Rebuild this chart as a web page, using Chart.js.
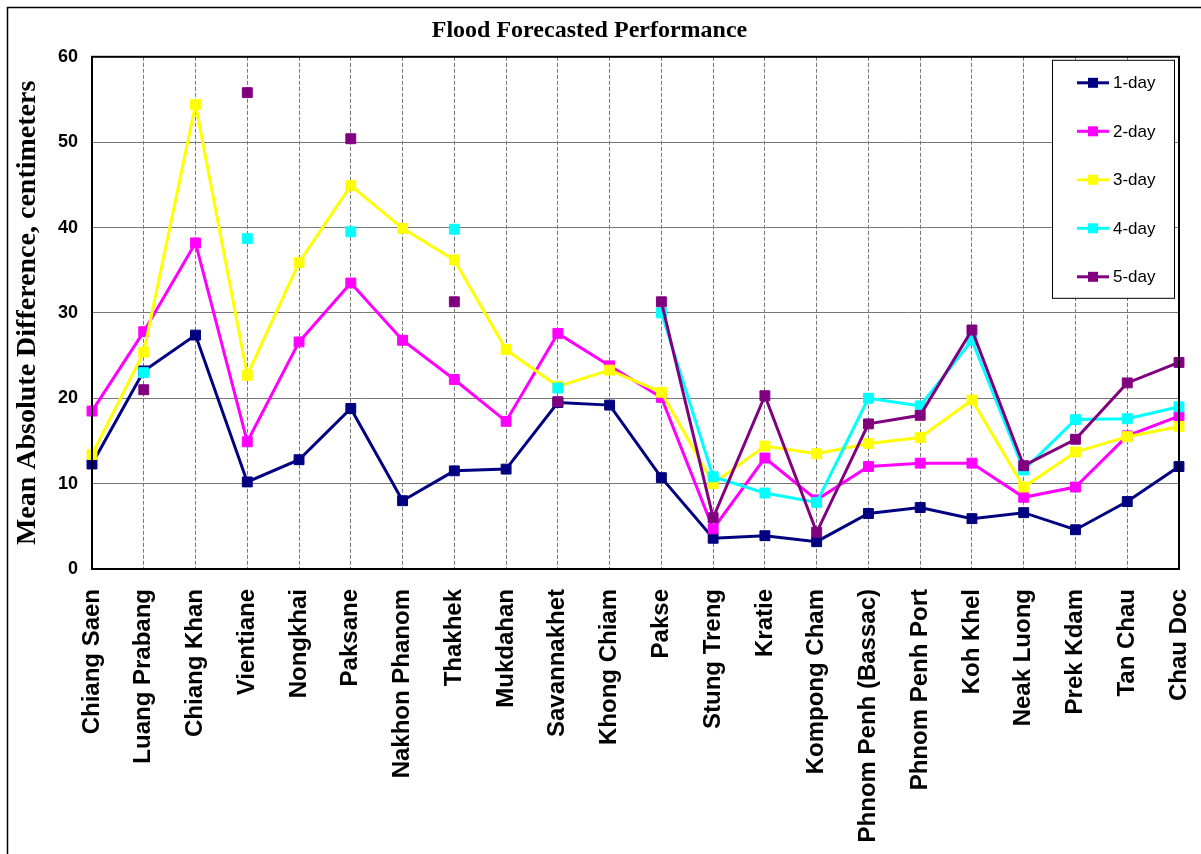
<!DOCTYPE html>
<html>
<head>
<meta charset="utf-8">
<title>Flood Forecasted Performance</title>
<script src="https://cdn.jsdelivr.net/npm/chart.js@4.4.1/dist/chart.umd.min.js"></script>
<style>
  body { margin: 0; background: #fff; }
  canvas { display: block; }
</style>
</head>
<body>
<canvas id="floodCanvas" width="1201" height="854"></canvas>
<script>
const stations = ['Chiang Saen', 'Luang Prabang', 'Chiang Khan', 'Vientiane', 'Nongkhai', 'Paksane',
  'Nakhon Phanom', 'Thakhek', 'Mukdahan', 'Savannakhet', 'Khong Chiam', 'Pakse', 'Stung Treng',
  'Kratie', 'Kompong Cham', 'Phnom Penh (Bassac)', 'Phnom Penh Port', 'Koh Khel', 'Neak Luong',
  'Prek Kdam', 'Tan Chau', 'Chau Doc'];

const oneDay = [12.3, 23.2, 27.4, 10.2, 12.8, 18.8, 8.0, 11.5, 11.7, 19.5, 19.2, 10.7, 3.6, 3.9, 3.2, 6.5, 7.2, 5.9, 6.6, 4.6, 7.9, 12.0];
const twoDay = [18.5, 27.8, 38.2, 14.9, 26.6, 33.5, 26.8, 22.2, 17.3, 27.6, 23.8, 20.1, 4.7, 13.0, 8.1, 12.0, 12.4, 12.4, 8.4, 9.6, 15.6, 17.9];
const threeDay = [13.4, 25.4, 54.4, 22.7, 35.9, 44.9, 39.9, 36.2, 25.7, 21.4, 23.3, 20.7, 10.0, 14.4, 13.5, 14.7, 15.4, 19.8, 9.6, 13.7, 15.5, 16.7];
const fourDay = [null, 23.0, null, 38.7, null, 39.5, null, 39.8, null, 21.2, null, 30.0, 10.8, 8.9, 7.8, 20.0, 19.1, 26.8, 11.6, 17.5, 17.6, 19.0];
const fiveDay = [null, 21.0, null, 55.8, null, 50.4, null, 31.3, null, 19.6, null, 31.3, 6.0, 20.3, 4.3, 17.0, 18.0, 28.0, 12.1, 15.2, 21.8, 24.2];

const seriesNames = ['1-day', '2-day', '3-day', '4-day', '5-day'];
const seriesColors = ['#000080', '#ff00ff', '#ffff00', '#00ffff', '#800080'];
const seriesValues = [oneDay, twoDay, threeDay, fourDay, fiveDay];

const yTicks = [0, 10, 20, 30, 40, 50, 60];

const datasets = seriesValues.map((values, i) => ({
  label: seriesNames[i],
  data: values,
  borderColor: seriesColors[i],
  backgroundColor: seriesColors[i],
  borderWidth: 3,
  pointStyle: 'rect',
  pointRadius: 7,
  pointHoverRadius: 7,
  pointBorderWidth: 1,
  tension: 0,
  spanGaps: false,
  order: seriesNames.length - i // later series drawn on top, like the original
}));

// outer frame, plot frame and the boxed legend
const framePlugin = {
  id: 'frame',
  afterDatasetsDraw(chart) {
    const ctx = chart.ctx;
    const area = chart.chartArea;
    ctx.save();
    ctx.setLineDash([]);
    ctx.strokeStyle = '#000';
    ctx.lineWidth = 2;
    ctx.strokeRect(area.left, area.top, area.right - area.left, area.bottom - area.top);

    ctx.lineWidth = 1.5;
    ctx.beginPath();
    ctx.moveTo(7.5, chart.height);
    ctx.lineTo(7.5, 7.5);
    ctx.lineTo(chart.width, 7.5);
    ctx.stroke();

    // legend box
    const boxW = 122, boxH = 238;
    const boxX = area.right - 5 - boxW;
    const boxY = area.top + 3;
    ctx.fillStyle = '#fff';
    ctx.fillRect(boxX, boxY, boxW, boxH);
    ctx.lineWidth = 1;
    ctx.strokeStyle = '#000';
    ctx.strokeRect(boxX + 0.5, boxY + 0.5, boxW, boxH);

    ctx.font = '17px "Liberation Sans", Arial, sans-serif';
    ctx.textBaseline = 'middle';
    ctx.textAlign = 'left';
    chart.data.datasets.forEach((ds, i) => {
      const y = boxY + 23 + i * 48.5;
      const x0 = boxX + 25;
      ctx.strokeStyle = ds.borderColor;
      ctx.lineWidth = 3;
      ctx.beginPath();
      ctx.moveTo(x0, y);
      ctx.lineTo(x0 + 32, y);
      ctx.stroke();
      ctx.fillStyle = ds.backgroundColor;
      ctx.fillRect(x0 + 11, y - 5, 10, 10);
      ctx.fillStyle = '#000';
      ctx.fillText(ds.label, x0 + 36, y + 1);
    });
    ctx.restore();
  }
};

new Chart(document.getElementById('floodCanvas'), {
  type: 'line',
  data: {
    labels: stations,
    datasets: datasets
  },
  options: {
    responsive: false,
    animation: false,
    devicePixelRatio: 1,
    layout: {
      padding: { top: 8, left: 0, right: 22, bottom: 0 }
    },
    plugins: {
      legend: { display: false },
      tooltip: { enabled: false },
      title: {
        display: true,
        text: 'Flood Forecasted Performance',
        color: '#000',
        font: { family: '"Liberation Serif", "Times New Roman", serif', size: 24, weight: 'bold' },
        padding: { top: 8, bottom: 12 }
      }
    },
    scales: {
      x: {
        offset: false,
        afterFit: (axis) => {
          axis.height = 285;
          axis.paddingLeft = 0;
          axis.paddingRight = 0;
        },
        grid: {
          color: '#777',
          lineWidth: 1,
          drawTicks: false
        },
        border: { color: '#000', width: 2, dash: [4, 2] },
        ticks: {
          autoSkip: false,
          minRotation: 90,
          maxRotation: 90,
          padding: 20,
          color: '#000',
          font: { family: '"Liberation Sans", Arial, sans-serif', size: 24, weight: 'bold' }
        }
      },
      y: {
        min: 0,
        max: 60,
        afterFit: (axis) => { axis.width = 92; },
        afterBuildTicks: (axis) => { axis.ticks = yTicks.map(v => ({ value: v })); },
        grid: {
          color: '#777',
          lineWidth: 1,
          drawTicks: false
        },
        border: { color: '#000', width: 2 },
        ticks: {
          padding: 14,
          color: '#000',
          font: { family: '"Liberation Sans", Arial, sans-serif', size: 18, weight: 'bold' }
        },
        title: {
          display: true,
          text: 'Mean Absolute Difference, centimeters',
          color: '#000',
          padding: { top: 11, bottom: 0 },
          font: { family: '"Liberation Serif", "Times New Roman", serif', size: 28, weight: 'bold' }
        }
      }
    }
  },
  plugins: [framePlugin]
});
</script>
</body>
</html>
